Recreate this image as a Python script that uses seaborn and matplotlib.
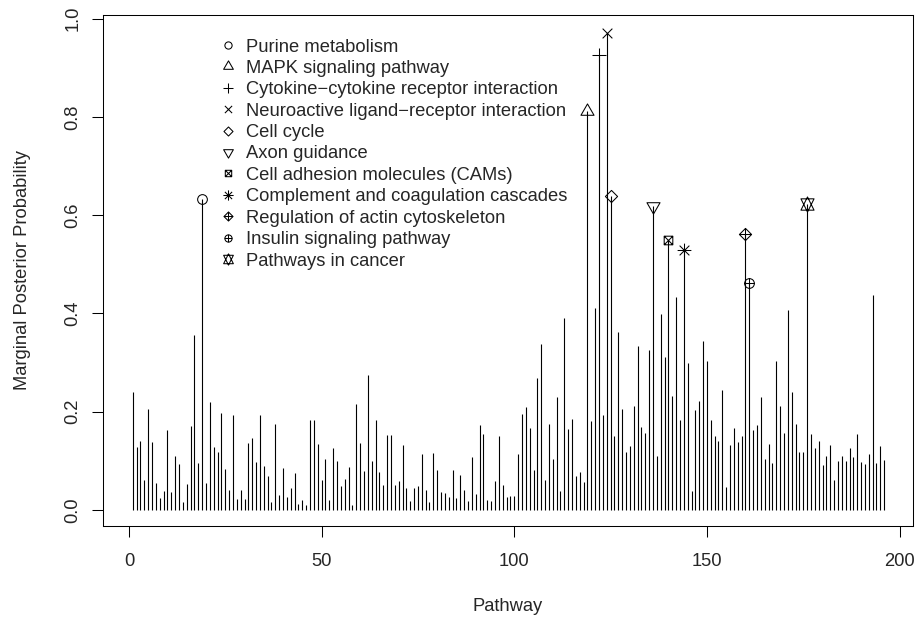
import matplotlib
matplotlib.use("Agg")
import matplotlib.pyplot as plt
import numpy as np
import seaborn as sns
from matplotlib.path import Path
from matplotlib.lines import Line2D

# marginal posterior probability for pathways 1..196
pathway = list(range(1, 197))
prob = [
    0.241, 0.128, 0.141, 0.061, 0.205, 0.138, 0.054, 0.024, 0.038, 0.163,
    0.036, 0.110, 0.093, 0.016, 0.052, 0.171, 0.357, 0.095, 0.633, 0.054,
    0.220, 0.128, 0.119, 0.197, 0.083, 0.041, 0.194, 0.022, 0.040, 0.023,
    0.136, 0.146, 0.098, 0.193, 0.089, 0.070, 0.016, 0.175, 0.030, 0.085,
    0.026, 0.044, 0.076, 0.013, 0.020, 0.010, 0.184, 0.184, 0.135, 0.060,
    0.104, 0.021, 0.127, 0.100, 0.048, 0.063, 0.087, 0.010, 0.215, 0.137,
    0.080, 0.275, 0.099, 0.184, 0.077, 0.050, 0.152, 0.152, 0.051, 0.059,
    0.133, 0.044, 0.018, 0.044, 0.049, 0.114, 0.041, 0.016, 0.116, 0.081,
    0.036, 0.035, 0.027, 0.082, 0.024, 0.072, 0.041, 0.018, 0.108, 0.032,
    0.173, 0.154, 0.020, 0.019, 0.059, 0.150, 0.051, 0.026, 0.028, 0.029,
    0.114, 0.196, 0.210, 0.166, 0.082, 0.269, 0.337, 0.062, 0.176, 0.104,
    0.229, 0.039, 0.390, 0.165, 0.186, 0.070, 0.077, 0.057, 0.812, 0.182,
    0.411, 0.925, 0.194, 0.971, 0.640, 0.151, 0.362, 0.205, 0.117, 0.130,
    0.211, 0.333, 0.169, 0.157, 0.325, 0.619, 0.110, 0.398, 0.312, 0.549,
    0.232, 0.434, 0.183, 0.530, 0.299, 0.039, 0.203, 0.221, 0.343, 0.303,
    0.183, 0.150, 0.141, 0.245, 0.047, 0.133, 0.166, 0.138, 0.151, 0.562,
    0.461, 0.163, 0.173, 0.230, 0.103, 0.135, 0.096, 0.304, 0.212, 0.156,
    0.407, 0.241, 0.176, 0.117, 0.119, 0.623, 0.154, 0.127, 0.140, 0.092,
    0.109, 0.133, 0.062, 0.100, 0.110, 0.100, 0.127, 0.108, 0.154, 0.097,
    0.094, 0.114, 0.437, 0.095, 0.131, 0.102,
]

hl_names = [
    "Purine metabolism",
    "MAPK signaling pathway",
    "Cytokine\u2212cytokine receptor interaction",
    "Neuroactive ligand\u2212receptor interaction",
    "Cell cycle",
    "Axon guidance",
    "Cell adhesion molecules (CAMs)",
    "Complement and coagulation cascades",
    "Regulation of actin cytoskeleton",
    "Insulin signaling pathway",
    "Pathways in cancer",
]
hl_index = [19, 119, 122, 124, 125, 136, 140, 144, 160, 161, 176]


# R-like pch symbols 1..11 built as paths (units of the symbol radius)
def seg_path(polys, segs, circle=False):
    verts, codes = [], []
    if circle:
        c = Path.unit_circle()
        verts += list(c.vertices)
        codes += list(c.codes)
    for p in polys:
        verts += list(p) + [p[0]]
        codes += [Path.MOVETO] + [Path.LINETO] * (len(p) - 1) + [Path.CLOSEPOLY]
    for a, b in segs:
        verts += [a, b]
        codes += [Path.MOVETO, Path.LINETO]
    return Path(np.array(verts, float), codes)


t0, t1, t2 = 1.555, 1.347, 0.778
dm, sq, s2 = 1.253, 0.886, 1.414
plus = lambda h: [((-h, 0), (h, 0)), ((0, -h), (0, h))]
cross = lambda h: [((-h, -h), (h, h)), ((-h, h), (h, -h))]
sy = 0.5 * (t2 + t0)
pch = [
    seg_path([], [], circle=True),
    seg_path([[(0, t0), (t1, -t2), (-t1, -t2)]], []),
    seg_path([], plus(s2)),
    seg_path([], cross(1)),
    seg_path([[(0, dm), (dm, 0), (0, -dm), (-dm, 0)]], []),
    seg_path([[(0, -t0), (t1, t2), (-t1, t2)]], []),
    seg_path([[(-sq, -sq), (sq, -sq), (sq, sq), (-sq, sq)]], cross(sq)),
    seg_path([], plus(s2) + cross(1)),
    seg_path([[(0, dm), (dm, 0), (0, -dm), (-dm, 0)]], plus(dm)),
    seg_path([], plus(1), circle=True),
    seg_path([[(0, -t0), (t1, sy), (-t1, sy)], [(0, t0), (t1, -sy), (-t1, -sy)]], []),
]
extent = [np.abs(p.vertices).max() for p in pch]

sns.set_style("ticks")
plt.rcParams["font.family"] = ["Liberation Sans", "DejaVu Sans"]
plt.rcParams["font.size"] = 13.2

fig = plt.figure(figsize=(9.2, 6.23), dpi=100)
ax = fig.add_axes([102.7 / 920, 1 - 525.7 / 623, 810 / 920, 511 / 623])

ax.vlines(pathway, 0, prob, color="black", lw=0.8)

r_plot = 3.5
r_leg = 2.6
handles = []
for k, (name, idx) in enumerate(zip(hl_names, hl_index)):
    ax.plot([idx], [prob[idx - 1]], ls="none", marker=pch[k],
            markersize=2 * extent[k] * r_plot, mfc="none", mec="black", mew=0.75)
    handles.append(Line2D([], [], ls="none", marker=pch[k],
                          markersize=2 * extent[k] * r_leg, mfc="none",
                          mec="black", mew=0.75))

ax.legend(handles, hl_names, loc="upper left",
          bbox_to_anchor=(219.5 / 920, 1 - 38.5 / 623),
          bbox_transform=fig.transFigure, frameon=False, borderpad=0,
          borderaxespad=0, handlelength=0.9, handletextpad=0.55,
          labelspacing=0.24, fontsize=13.2)

ax.set_xlim(-6.8, 203.4)
ax.set_ylim(-0.032, 1.008)
ax.set_xticks([0, 50, 100, 150, 200])
ax.set_yticks([0.0, 0.2, 0.4, 0.6, 0.8, 1.0])
ax.set_yticklabels(["0.0", "0.2", "0.4", "0.6", "0.8", "1.0"])
ax.tick_params(axis="both", length=8.2, width=0.75, color="black",
               labelsize=13.2, direction="out")
ax.tick_params(axis="x", pad=11.5)
ax.tick_params(axis="y", pad=7)
for lab in ax.get_yticklabels():
    lab.set_rotation(90)
    lab.set_va("center")
for s in ax.spines.values():
    s.set_linewidth(0.75)
    s.set_color("black")
    s.set_visible(True)
ax.grid(False)

ax.set_xlabel("Pathway", fontsize=13.2)
ax.set_ylabel("Marginal Posterior Probability", fontsize=13.2)
ax.xaxis.set_label_coords(0.5, -0.142)
ax.yaxis.set_label_coords(-0.089, 0.5)

fig.savefig("out.png", dpi=100)
